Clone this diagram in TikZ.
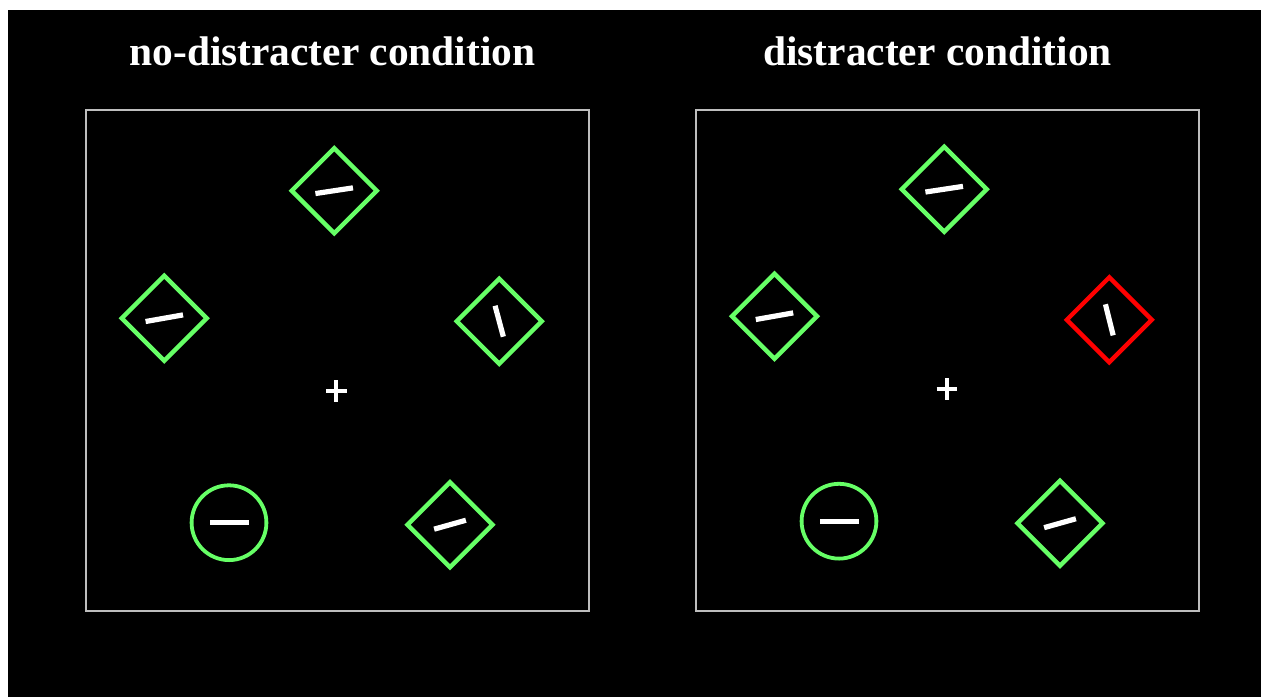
\documentclass[tikz,border=0pt]{standalone}
\usepackage{fontspec}
\setmainfont{Liberation Serif}
\usetikzlibrary{shapes.geometric}
\definecolor{cuegreen}{RGB}{102,255,102}
\definecolor{framegray}{RGB}{190,190,190}

\begin{document}
\begin{tikzpicture}[
    x=0.5pt, y=-0.5pt, % one unit = one pixel, y downwards
    heading/.style={
        text=white,
        font=\bfseries\fontsize{20.7pt}{24pt}\selectfont,
        anchor=base,
        inner sep=0pt
    },
    panel/.style={
        rectangle,
        draw=framegray,
        line width=1pt,
        minimum width=251.5pt,
        minimum height=250.5pt,
        inner sep=0pt
    },
    cue/.style={
        diamond,
        shape aspect=1,
        draw=cuegreen,
        line width=2.2pt,
        minimum size=43.4pt,
        inner sep=0pt
    },
    distracter/.style={cue, draw=red},
    probe/.style={
        circle,
        draw=cuegreen,
        line width=1.9pt,
        minimum size=37.4pt,
        inner sep=0pt
    },
    bar/.style={rectangle, fill=white, inner sep=0pt, minimum height=2.6pt},
    fixation/.style={white, line width=2pt}
]

\useasboundingbox (0,0) rectangle (1264,697);
\fill[white] (0,0) rectangle (1264,697);
\fill[black] (8,10) rectangle (1261,697);

% ========== left: no-distracter condition ==========
\node[heading] (titleL) at (332.5,65.7) {no-distracter condition};
\node[panel] (panelL) at (337.5,360.5) {};

\node[cue] (topL) at (334.2,190.7) {};
\node[cue] (leftL) at (164.3,318.2) {};
\node[cue] (rightL) at (499.2,321.2) {};
\node[probe] (circleL) at (229,522.7) {};
\node[cue] (lowL) at (450,524.7) {};

\node[bar, minimum width=19pt, rotate=8.6] (barTopL) at (topL.center) {};
\node[bar, minimum width=19pt, rotate=10] (barLeftL) at (leftL.center) {};
\node[bar, minimum width=16pt, rotate=-75] (barRightL) at (rightL.center) {};
\node[bar, minimum width=19.5pt] (barCircleL) at (circleL.center) {};
\node[bar, minimum width=16.5pt, rotate=15.7] (barLowL) at (lowL.center) {};

\coordinate (fixL) at (336.3,391);
\draw[fixation] (fixL) ++(-10.3,0) -- ++(20.6,0) (fixL) ++(0,-11) -- ++(0,22);

% ========== right: distracter condition ==========
\node[heading] (titleR) at (937.5,65.7) {distracter condition};
\node[panel] (panelR) at (947.5,360.5) {};

\node[cue] (topR) at (944.2,189.2) {};
\node[cue] (leftR) at (774.5,316.2) {};
\node[distracter] (rightR) at (1109.3,319.8) {};
\node[probe] (circleR) at (839,521.2) {};
\node[cue] (lowR) at (1060,523.2) {};

\node[bar, minimum width=19pt, rotate=8.6] (barTopR) at (topR.center) {};
\node[bar, minimum width=19pt, rotate=10] (barLeftR) at (leftR.center) {};
\node[bar, minimum width=16pt, rotate=-76] (barRightR) at (rightR.center) {};
\node[bar, minimum width=19.5pt] (barCircleR) at (circleR.center) {};
\node[bar, minimum width=16.5pt, rotate=15.7] (barLowR) at (lowR.center) {};

\coordinate (fixR) at (946.8,389.3);
\draw[fixation] (fixR) ++(-10.3,0) -- ++(20.6,0) (fixR) ++(0,-11) -- ++(0,22);

\end{tikzpicture}
\end{document}
